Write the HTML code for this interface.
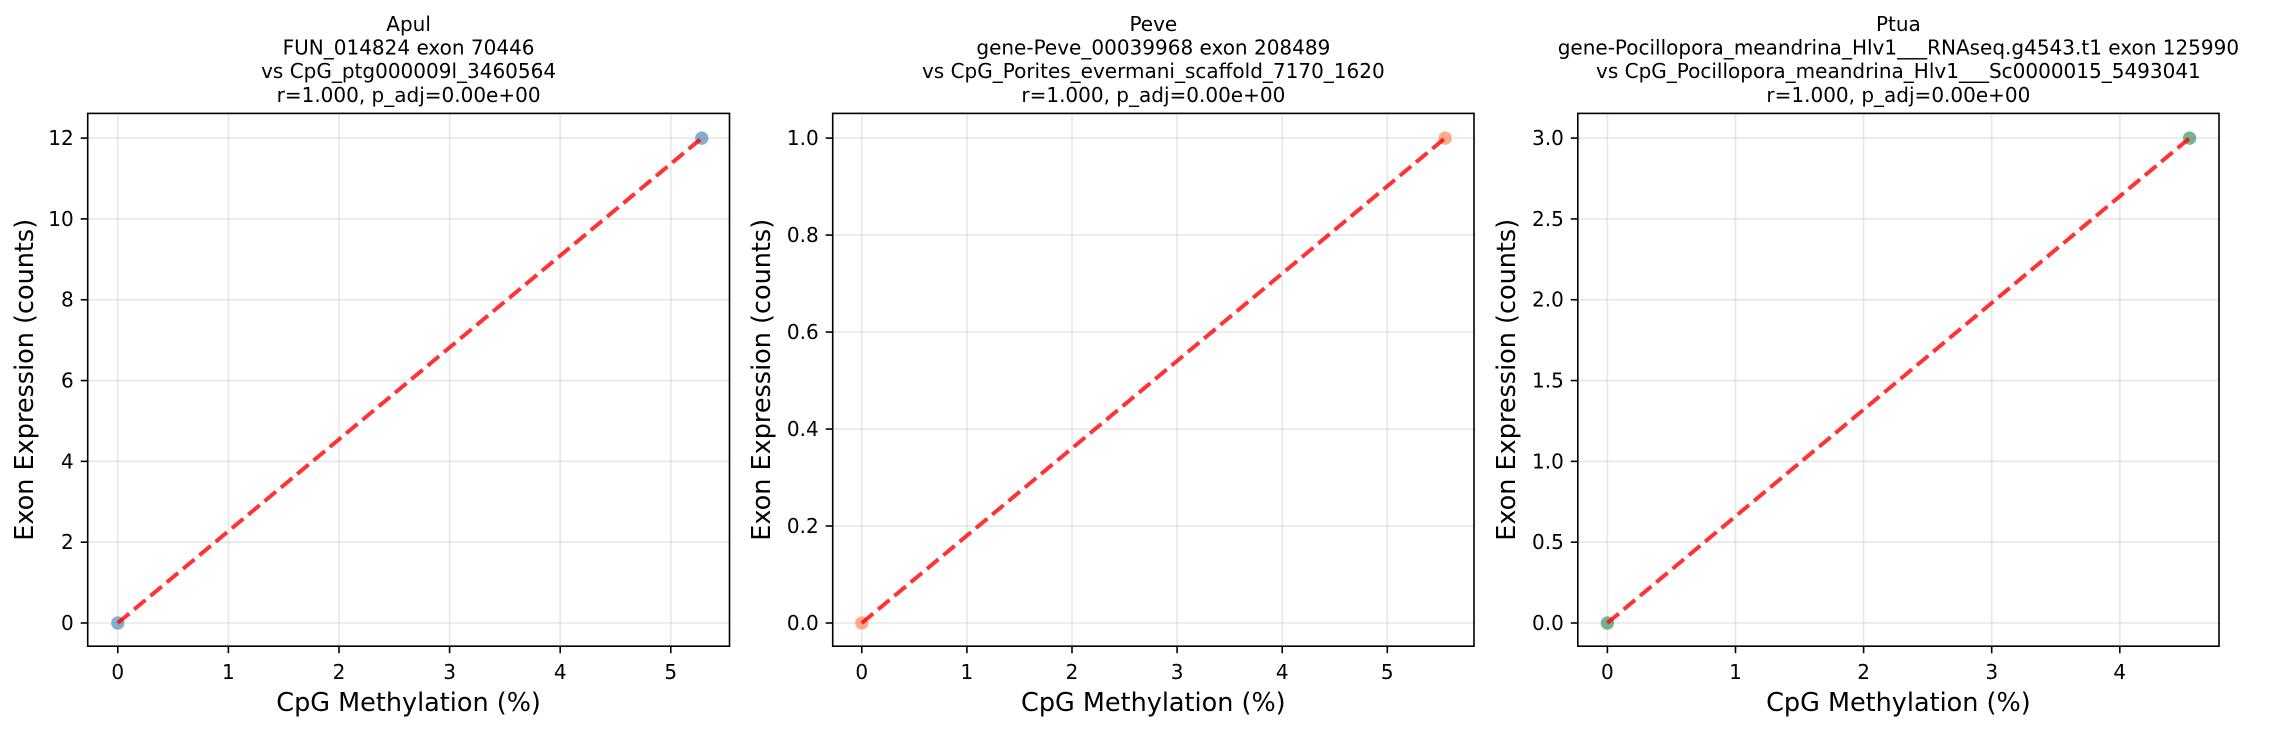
<!DOCTYPE html>
<html><head><meta charset="utf-8">
<style>
html,body{margin:0;padding:0;background:#fff;}
svg{display:block;}
text{font-family:"DejaVu Sans","Liberation Sans",sans-serif;fill:#000;}
</style></head>
<body>
<svg id="s" width="2269" height="729" viewBox="0 0 2269 729" xmlns="http://www.w3.org/2000/svg"></svg>
<script>
(function(){
const NS="http://www.w3.org/2000/svg";
const svg=document.getElementById('s');
function el(t,a,txt){const e=document.createElementNS(NS,t);for(const k in a)e.setAttribute(k,a[k]);if(txt!==undefined)e.textContent=txt;svg.appendChild(e);return e;}
const T=113.4,B=646.2,yTop=138.1,yZero=623;
const panels=[
 {L:87.7,R:729.5,x0:117.8,xu:110.6,xmax:5.28,xt:[0,1,2,3,4,5],ymax:12,yt:[0,2,4,6,8,10,12],yfmt:v=>String(v),col:"#4682b4",ylx:24,
  title:["Apul","FUN_014824 exon 70446","vs CpG_ptg000009l_3460564","r=1.000, p_adj=0.00e+00"]},
 {L:832.7,R:1474,x0:861.8,xu:105.1,xmax:5.55,xt:[0,1,2,3,4,5],ymax:1,yt:[0,0.2,0.4,0.6,0.8,1.0],yfmt:v=>v.toFixed(1),col:"#ff7f50",ylx:761,
  title:["Peve","gene-Peve_00039968 exon 208489","vs CpG_Porites_evermani_scaffold_7170_1620","r=1.000, p_adj=0.00e+00"]},
 {L:1577.8,R:2219,x0:1607.4,xu:128.1,xmax:4.545,xt:[0,1,2,3,4],ymax:3,yt:[0,0.5,1,1.5,2,2.5,3],yfmt:v=>v.toFixed(1),col:"#2e8b57",ylx:1506,
  title:["Ptua","gene-Pocillopora_meandrina_Hlv1___RNAseq.g4543.t1 exon 125990","vs CpG_Pocillopora_meandrina_Hlv1___Sc0000015_5493041","r=1.000, p_adj=0.00e+00"]}
];
const tl=[24.2,47.6,71.2,95];
for(const p of panels){
 const X=v=>p.x0+v*p.xu, Y=v=>yZero-v*(yZero-yTop)/p.ymax;
 const cx=(p.L+p.R)/2;
 for(const v of p.xt) el('line',{x1:X(v),x2:X(v),y1:T,y2:B,stroke:'#b0b0b0','stroke-opacity':0.3,'stroke-width':1.6});
 for(const v of p.yt) el('line',{x1:p.L,x2:p.R,y1:Y(v),y2:Y(v),stroke:'#b0b0b0','stroke-opacity':0.3,'stroke-width':1.6});
 for(const [a,b] of [[0,0],[p.xmax,p.ymax]]) el('circle',{cx:X(a),cy:Y(b),r:7,fill:p.col,'fill-opacity':0.65,stroke:'#fff','stroke-width':1,'stroke-opacity':0.6});
 el('line',{x1:X(0),y1:Y(0),x2:X(p.xmax),y2:Y(p.ymax),stroke:'#ff0000','stroke-opacity':0.8,'stroke-width':4,'stroke-dasharray':'14.8 6.4'});
 el('rect',{x:p.L,y:T,width:p.R-p.L,height:B-T,fill:'none',stroke:'#000','stroke-width':1.6});
 for(const v of p.xt){el('line',{x1:X(v),x2:X(v),y1:B,y2:B+7,stroke:'#000','stroke-width':1.6});
  el('text',{x:X(v),y:679,'font-size':20,'text-anchor':'middle'},String(v));}
 for(const v of p.yt){el('line',{x1:p.L-7,x2:p.L,y1:Y(v),y2:Y(v),stroke:'#000','stroke-width':1.6});
  el('text',{x:p.L-14,y:Y(v)+7,'font-size':20,'text-anchor':'end'},p.yfmt(v));}
 el('text',{x:cx,y:711,'font-size':25.5,'text-anchor':'middle'},'CpG Methylation (%)');
 const my=(T+B)/2;
 el('text',{x:p.ylx,y:my+9,'font-size':25.5,'text-anchor':'middle',transform:'rotate(-90 '+p.ylx+' '+my+')'},'Exon Expression (counts)');
 p.title.forEach((t,i)=>el('text',{x:cx,y:tl[i]+7,'font-size':20,'text-anchor':'middle'},t));
}
})();
</script>
</body></html>
